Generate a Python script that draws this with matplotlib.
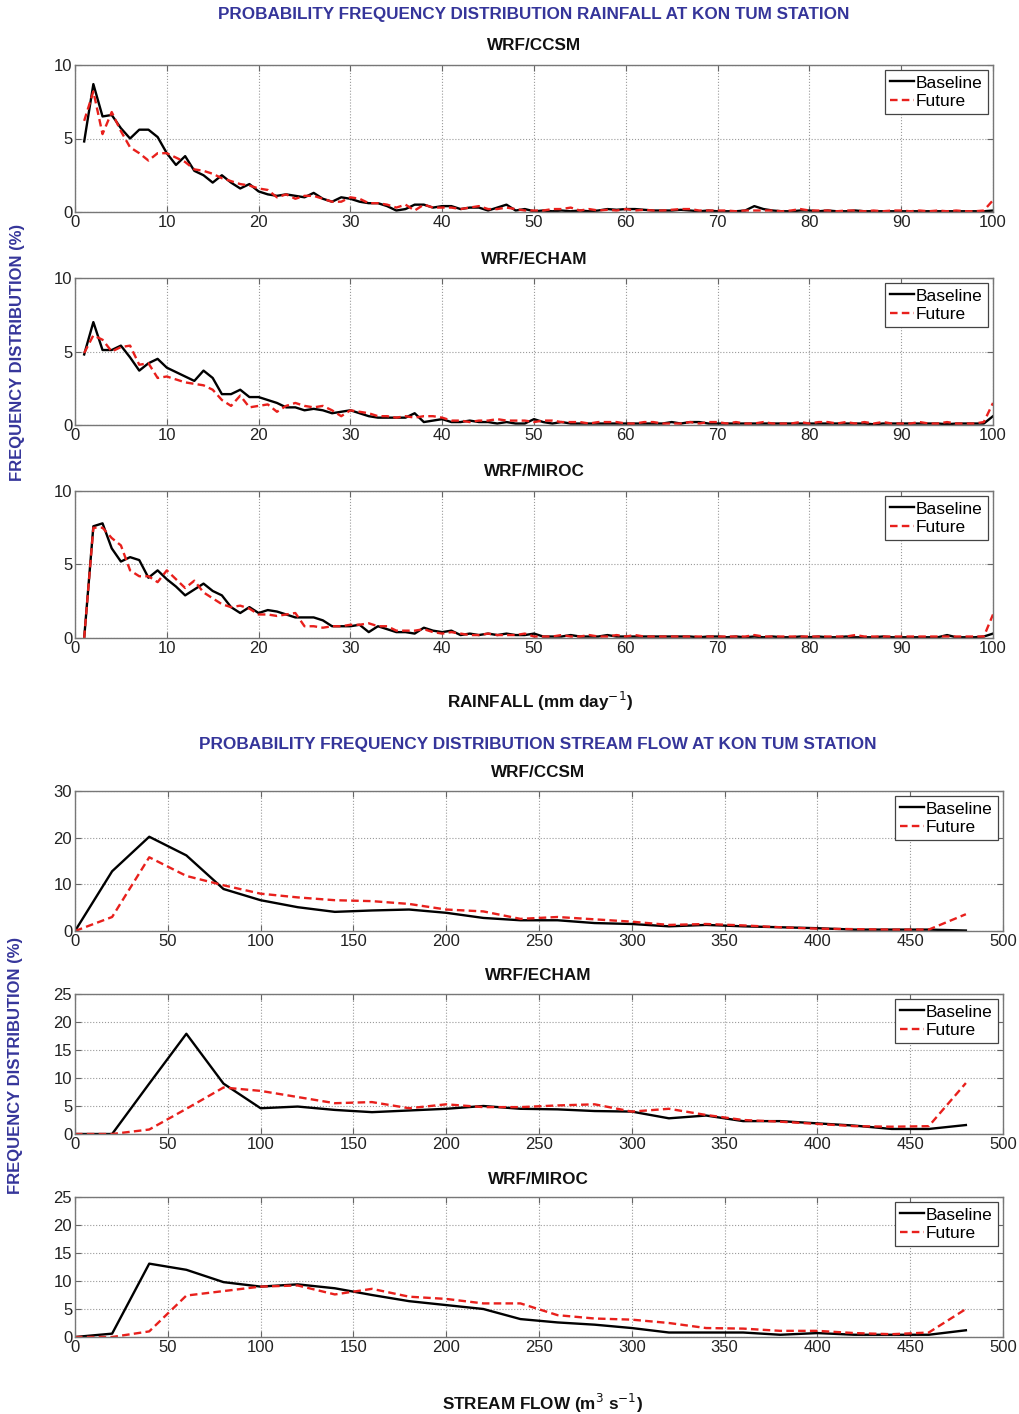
import matplotlib
matplotlib.use("Agg")
import matplotlib.pyplot as plt

plt.rcParams['font.family'] = ['Liberation Sans', 'DejaVu Sans']

# rainfall bins (mm/day)
rain_x = list(range(1, 101))

ccsm_rain_base = [4.8, 8.7, 6.5, 6.6, 5.7, 5.0, 5.6, 5.6, 5.1, 4.0,
                  3.2, 3.8, 2.8, 2.5, 2.0, 2.5, 2.0, 1.6, 1.9, 1.4,
                  1.2, 1.1, 1.2, 1.1, 1.0, 1.3, 0.9, 0.7, 1.0, 0.9,
                  0.7, 0.6, 0.6, 0.4, 0.1, 0.2, 0.5, 0.5, 0.3, 0.4,
                  0.4, 0.2, 0.3, 0.3, 0.1, 0.3, 0.5, 0.1, 0.2, 0.05,
                  0.1, 0.05, 0.1, 0.05, 0.1, 0.05, 0.1, 0.2, 0.15, 0.2,
                  0.2, 0.15, 0.1, 0.1, 0.1, 0.15, 0.1, 0.05, 0.1, 0.05,
                  0.05, 0.05, 0.1, 0.4, 0.2, 0.1, 0.05, 0.05, 0.1, 0.1,
                  0.05, 0.1, 0.05, 0.05, 0.1, 0.05, 0.05, 0.05, 0.05, 0.05,
                  0.05, 0.05, 0.05, 0.05, 0.05, 0.05, 0.05, 0.05, 0.05, 0.1]
ccsm_rain_fut = [6.2, 8.2, 5.3, 6.8, 5.5, 4.4, 4.0, 3.5, 4.0, 4.0,
                 3.7, 3.4, 2.9, 2.8, 2.6, 2.3, 2.1, 1.9, 1.8, 1.6,
                 1.5, 1.0, 1.2, 0.9, 1.1, 1.1, 0.9, 0.7, 0.7, 1.0,
                 0.9, 0.6, 0.6, 0.5, 0.3, 0.5, 0.1, 0.5, 0.3, 0.3,
                 0.3, 0.2, 0.3, 0.4, 0.2, 0.2, 0.3, 0.2, 0.1, 0.1,
                 0.1, 0.2, 0.2, 0.3, 0.1, 0.2, 0.1, 0.15, 0.1, 0.2,
                 0.1, 0.15, 0.1, 0.1, 0.15, 0.2, 0.2, 0.1, 0.1, 0.1,
                 0.1, 0.05, 0.1, 0.1, 0.1, 0.1, 0.05, 0.1, 0.2, 0.1,
                 0.1, 0.1, 0.05, 0.1, 0.1, 0.05, 0.1, 0.05, 0.1, 0.1,
                 0.05, 0.1, 0.05, 0.1, 0.05, 0.1, 0.05, 0.05, 0.1, 0.8]

echam_rain_base = [4.8, 7.0, 5.1, 5.1, 5.4, 4.6, 3.7, 4.2, 4.5, 3.9,
                   3.6, 3.3, 3.0, 3.7, 3.2, 2.1, 2.1, 2.4, 1.9, 1.9,
                   1.7, 1.5, 1.2, 1.2, 1.0, 1.1, 1.0, 0.8, 0.9, 1.0,
                   0.8, 0.6, 0.5, 0.5, 0.5, 0.5, 0.8, 0.2, 0.3, 0.4,
                   0.2, 0.2, 0.3, 0.2, 0.2, 0.1, 0.2, 0.1, 0.1, 0.4,
                   0.2, 0.1, 0.2, 0.1, 0.1, 0.1, 0.1, 0.1, 0.1, 0.1,
                   0.1, 0.1, 0.1, 0.1, 0.2, 0.1, 0.2, 0.2, 0.1, 0.1,
                   0.1, 0.1, 0.1, 0.1, 0.1, 0.1, 0.1, 0.1, 0.1, 0.1,
                   0.1, 0.1, 0.1, 0.1, 0.1, 0.1, 0.05, 0.1, 0.1, 0.1,
                   0.1, 0.1, 0.1, 0.1, 0.05, 0.1, 0.1, 0.1, 0.1, 0.6]
echam_rain_fut = [4.9, 6.1, 5.8, 5.0, 5.3, 5.4, 4.1, 4.2, 3.2, 3.3,
                  3.1, 2.9, 2.8, 2.7, 2.4, 1.7, 1.3, 2.0, 1.2, 1.3,
                  1.4, 0.9, 1.3, 1.5, 1.3, 1.2, 1.3, 1.0, 0.6, 1.0,
                  0.9, 0.8, 0.6, 0.6, 0.5, 0.6, 0.5, 0.6, 0.6, 0.5,
                  0.3, 0.3, 0.2, 0.3, 0.3, 0.4, 0.3, 0.3, 0.3, 0.2,
                  0.3, 0.3, 0.2, 0.2, 0.2, 0.1, 0.2, 0.2, 0.2, 0.1,
                  0.1, 0.2, 0.2, 0.1, 0.1, 0.1, 0.2, 0.1, 0.2, 0.2,
                  0.1, 0.2, 0.1, 0.1, 0.2, 0.1, 0.1, 0.1, 0.2, 0.1,
                  0.2, 0.2, 0.1, 0.2, 0.1, 0.2, 0.1, 0.2, 0.1, 0.1,
                  0.1, 0.2, 0.1, 0.1, 0.2, 0.1, 0.1, 0.1, 0.2, 1.5]

miroc_rain_base = [0.0, 7.6, 7.8, 6.1, 5.2, 5.5, 5.3, 4.1, 4.6, 4.0,
                   3.5, 2.9, 3.3, 3.7, 3.2, 2.9, 2.1, 1.7, 2.1, 1.7,
                   1.9, 1.8, 1.6, 1.4, 1.4, 1.4, 1.2, 0.8, 0.8, 0.8,
                   0.9, 0.4, 0.8, 0.6, 0.4, 0.4, 0.3, 0.7, 0.5, 0.4,
                   0.5, 0.2, 0.3, 0.2, 0.3, 0.2, 0.3, 0.2, 0.2, 0.3,
                   0.1, 0.1, 0.1, 0.2, 0.1, 0.1, 0.1, 0.2, 0.1, 0.1,
                   0.1, 0.1, 0.1, 0.1, 0.1, 0.1, 0.1, 0.05, 0.1, 0.1,
                   0.05, 0.1, 0.05, 0.1, 0.05, 0.1, 0.05, 0.05, 0.1, 0.05,
                   0.1, 0.05, 0.05, 0.1, 0.05, 0.05, 0.05, 0.1, 0.05, 0.05,
                   0.05, 0.05, 0.05, 0.05, 0.2, 0.05, 0.05, 0.05, 0.1, 0.3]
miroc_rain_fut = [0.0, 7.5, 7.5, 6.8, 6.3, 4.6, 4.2, 4.2, 3.8, 4.6,
                  4.0, 3.4, 3.9, 3.1, 2.7, 2.3, 2.1, 2.2, 2.0, 1.6,
                  1.6, 1.5, 1.6, 1.7, 0.8, 0.8, 0.7, 0.8, 0.8, 0.9,
                  0.9, 1.0, 0.8, 0.8, 0.5, 0.5, 0.5, 0.6, 0.4, 0.3,
                  0.4, 0.3, 0.2, 0.2, 0.3, 0.2, 0.2, 0.2, 0.3, 0.1,
                  0.1, 0.1, 0.2, 0.1, 0.1, 0.2, 0.1, 0.1, 0.2, 0.1,
                  0.2, 0.1, 0.1, 0.1, 0.1, 0.1, 0.1, 0.1, 0.1, 0.1,
                  0.1, 0.1, 0.1, 0.2, 0.1, 0.1, 0.1, 0.1, 0.1, 0.1,
                  0.1, 0.1, 0.1, 0.1, 0.2, 0.1, 0.1, 0.1, 0.1, 0.1,
                  0.1, 0.1, 0.1, 0.1, 0.1, 0.1, 0.1, 0.1, 0.1, 1.6]

# stream flow bins (m3/s)
flow_x = list(range(0, 500, 20))

ccsm_flow_base = [0, 12.8, 20.2, 16.2, 9.0, 6.6, 5.1, 4.1, 4.4, 4.6,
                  3.9, 2.8, 2.3, 2.3, 1.7, 1.5, 1.0, 1.3, 1.0, 0.8,
                  0.6, 0.3, 0.3, 0.3, 0.1]
ccsm_flow_fut = [0, 3.0, 15.8, 11.8, 9.8, 8.0, 7.2, 6.6, 6.4, 5.8,
                 4.6, 4.2, 2.6, 3.0, 2.5, 2.0, 1.3, 1.5, 1.2, 0.8,
                 0.5, 0.4, 0.3, 0.3, 3.6]

echam_flow_base = [0, 0, 9.0, 17.9, 9.0, 4.6, 4.9, 4.3, 3.9, 4.2,
                   4.5, 5.0, 4.5, 4.4, 4.1, 4.0, 2.8, 3.3, 2.3, 2.3,
                   1.9, 1.5, 0.9, 0.9, 1.6]
echam_flow_fut = [0, 0, 0.8, 4.5, 8.3, 7.7, 6.6, 5.5, 5.7, 4.6,
                  5.3, 4.8, 4.8, 5.1, 5.3, 4.0, 4.5, 3.4, 2.5, 2.2,
                  1.8, 1.4, 1.3, 1.4, 9.1]

miroc_flow_base = [0, 0.6, 13.1, 12.0, 9.8, 9.0, 9.4, 8.7, 7.5, 6.4,
                   5.7, 5.0, 3.2, 2.6, 2.2, 1.6, 0.8, 0.8, 0.8, 0.4,
                   0.7, 0.4, 0.4, 0.4, 1.2]
miroc_flow_fut = [0, 0, 1.0, 7.4, 8.2, 9.0, 9.2, 7.6, 8.6, 7.2,
                  6.8, 6.0, 6.0, 3.9, 3.3, 3.1, 2.5, 1.6, 1.5, 1.1,
                  1.1, 0.7, 0.5, 0.8, 5.0]

models = ['WRF/CCSM', 'WRF/ECHAM', 'WRF/MIROC']
rain_base = [ccsm_rain_base, echam_rain_base, miroc_rain_base]
rain_fut = [ccsm_rain_fut, echam_rain_fut, miroc_rain_fut]
flow_base = [ccsm_flow_base, echam_flow_base, miroc_flow_base]
flow_fut = [ccsm_flow_fut, echam_flow_fut, miroc_flow_fut]

W, H = 1020, 1414
fig = plt.figure(figsize=(W / 100, H / 100), dpi=100)
blue = '#35359a'


def px_axes(left, top, right, bottom):
    return fig.add_axes([left / W, 1 - bottom / H, (right - left) / W, (bottom - top) / H])


def style(ax, xlim, ylim, xticks, yticks):
    ax.set_xlim(*xlim)
    ax.set_ylim(*ylim)
    ax.set_xticks(xticks)
    ax.set_yticks(yticks)
    ax.grid(True, linestyle=':', color='#9a9a9a', linewidth=0.8)
    ax.tick_params(direction='in', top=True, right=True, labelsize=12,
                   length=4, color='#666666', labelcolor='#222222', pad=2)
    for s in ax.spines.values():
        s.set_color('#777777')
        s.set_linewidth(1.0)
    leg = ax.legend(loc='upper right', fontsize=12.5, fancybox=False, framealpha=1,
                    edgecolor='#444444', handlelength=1.4, handletextpad=0.1,
                    borderpad=0.3, labelspacing=0.2, borderaxespad=0.3)
    leg.get_frame().set_linewidth(0.9)


# rainfall panels
rain_tops = [65, 278, 491]
for i in range(3):
    ax = px_axes(75, rain_tops[i], 993, rain_tops[i] + 147)
    ax.plot(rain_x, rain_base[i], color='black', lw=1.7, label='Baseline')
    ax.plot(rain_x, rain_fut[i], color='#e8201c', lw=1.7, ls='--', dashes=(3.2, 1.8), label='Future')
    style(ax, (0, 100), (0, 10), range(0, 101, 10), [0, 5, 10])
    fig.text(534 / W, 1 - (rain_tops[i] - 19) / H, models[i], ha='center', va='center',
             fontsize=12.3, fontweight='bold', color='#111111')

# stream flow panels
flow_tops = [791, 994, 1197]
flow_ylims = [30, 25, 25]
flow_yticks = [range(0, 31, 10), range(0, 26, 5), range(0, 26, 5)]
for i in range(3):
    ax = px_axes(75, flow_tops[i], 1003, flow_tops[i] + 140)
    ax.plot(flow_x, flow_base[i], color='black', lw=1.7, label='Baseline')
    ax.plot(flow_x, flow_fut[i], color='#e8201c', lw=1.7, ls='--', dashes=(3.2, 1.8), label='Future')
    style(ax, (0, 500), (0, flow_ylims[i]), range(0, 501, 50), flow_yticks[i])
    fig.text(538 / W, 1 - (flow_tops[i] - 18) / H, models[i], ha='center', va='center',
             fontsize=12.3, fontweight='bold', color='#111111')

fig.text(534 / W, 1 - 15 / H, 'PROBABILITY FREQUENCY DISTRIBUTION RAINFALL AT KON TUM STATION',
         ha='center', va='center', fontsize=12.3, fontweight='bold', color=blue)
fig.text(538 / W, 1 - 745 / H, 'PROBABILITY FREQUENCY DISTRIBUTION STREAM FLOW AT KON TUM STATION',
         ha='center', va='center', fontsize=12.4, fontweight='bold', color=blue)

fig.text(18 / W, 1 - 352 / H, 'FREQUENCY DISTRIBUTION (%)', rotation=90, ha='center', va='center',
         fontsize=12, fontweight='bold', color=blue)
fig.text(16 / W, 1 - 1065 / H, 'FREQUENCY DISTRIBUTION (%)', rotation=90, ha='center', va='center',
         fontsize=12, fontweight='bold', color=blue)

fig.text(540 / W, 1 - 701 / H, 'RAINFALL (mm day$^{-1}$)', ha='center', va='center',
         fontsize=12.3, fontweight='bold', color='#111111')
fig.text(542 / W, 1 - 1403 / H, 'STREAM FLOW (m$^{3}$ s$^{-1}$)', ha='center', va='center',
         fontsize=12.3, fontweight='bold', color='#111111')

fig.savefig('out.png', dpi=100)
